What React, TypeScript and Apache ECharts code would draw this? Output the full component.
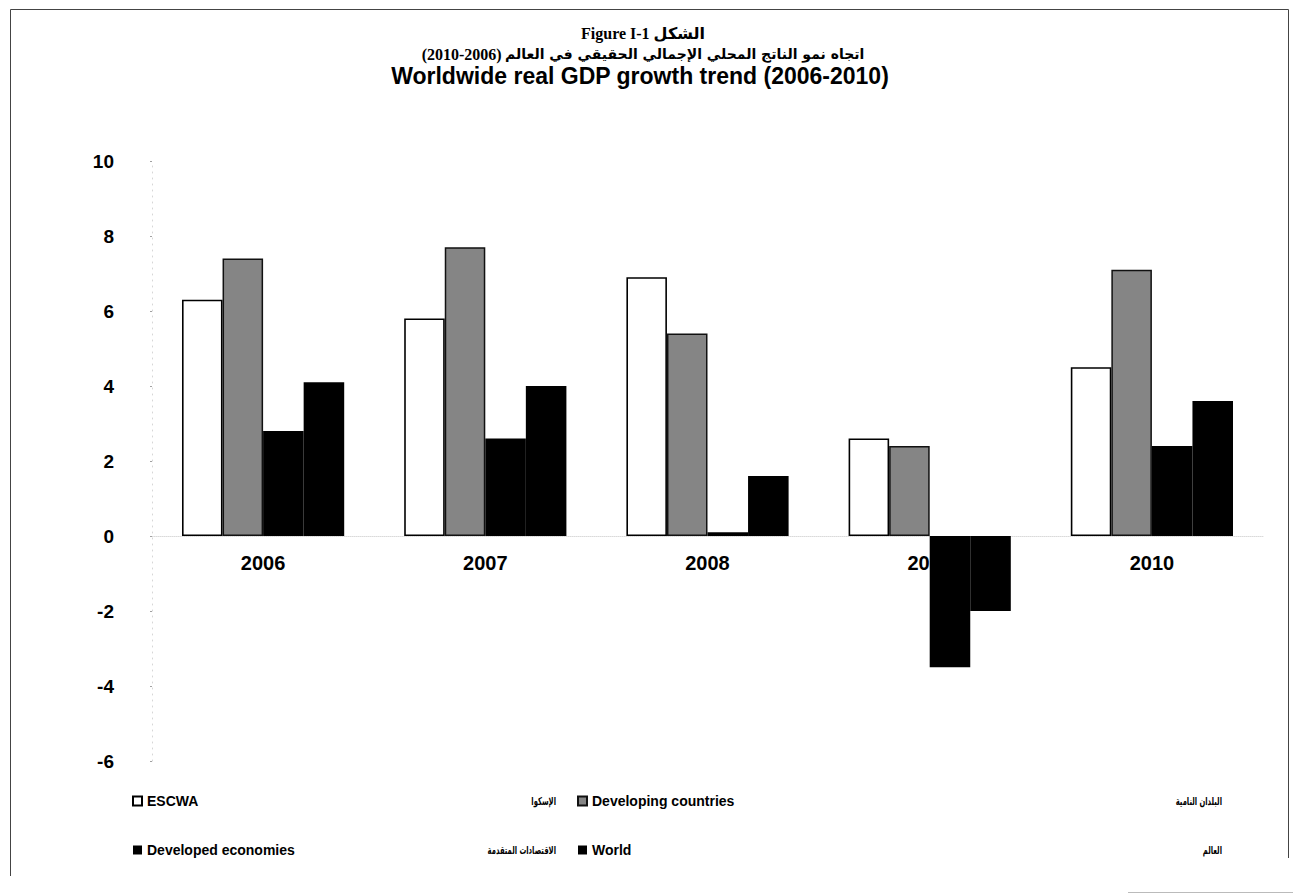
import React, { useEffect, useRef } from "react";
import * as echarts from "echarts";

const categories = ["2006", "2007", "2008", "2009", "2010"];
const escwa = [6.3, 5.8, 6.9, 2.6, 4.5];
const developing = [7.4, 7.7, 5.4, 2.4, 7.1];
const developed = [2.8, 2.6, 0.1, -3.5, 2.4];
const world = [4.1, 4.0, 1.6, -2.0, 3.6];

const seriesNames = ["ESCWA", "Developing countries", "Developed economies", "World"];
const arabicNames = ["الإسكوا", "البلدان النامية", "الاقتصادات المتقدمة", "العالم"];

const titleLine1 = "Figure I-1 الشكل";
const titleArabic = "اتجاه نمو الناتج المحلي الإجمالي الحقيقي في العالم";
const titleArabicYears = "(2010-2006)";
const titleEnglish = "Worldwide real GDP growth trend (2006-2010)";

const SANS = "'Liberation Sans', Arial, sans-serif";
const AR = "'DejaVu Sans', sans-serif";

export default function App() {
  const ref = useRef<HTMLDivElement>(null);
  useEffect(() => {
    const chart = echarts.init(ref.current!, null, { renderer: "svg" });
    const barBase = { type: "bar", barGap: "0%", barCategoryGap: "27%" };
    const arLegend = (text: string, x: number, y: number) => ({
      type: "text",
      x,
      y,
      scaleX: 0.62,
      style: {
        text,
        fontFamily: AR,
        fontWeight: "bold",
        fontSize: 11,
        fill: "#000",
        align: "right",
        verticalAlign: "middle",
      },
    });
    chart.setOption({
      animation: false,
      backgroundColor: "#ffffff",
      grid: { left: 152, right: 30, top: 161, bottom: 133, containLabel: false },
      xAxis: {
        type: "category",
        data: categories,
        position: "bottom",
        offset: -225,
        axisLine: { show: true, onZero: false, lineStyle: { color: "#dadada", type: "dotted", width: 1 } },
        axisTick: { show: false },
        axisLabel: { margin: 17, fontFamily: SANS, fontWeight: "bold", fontSize: 20, color: "#000" },
        splitLine: { show: false },
        z: 0,
      },
      yAxis: {
        type: "value",
        min: -6,
        max: 10,
        interval: 2,
        axisLine: { show: true, lineStyle: { color: "#d6d6d6", type: [1, 5], width: 1 } },
        axisTick: { show: true, length: 2, lineStyle: { color: "#a0a0a0" } },
        axisLabel: { margin: 38, fontFamily: SANS, fontWeight: "bold", fontSize: 19, color: "#000" },
        splitLine: { show: false },
      },
      legend: [
        {
          orient: "vertical",
          left: 132,
          top: 794,
          padding: 0,
          itemWidth: 9,
          itemHeight: 9,
          itemGap: 35,
          icon: "rect",
          data: [seriesNames[0], seriesNames[2]],
          textStyle: { fontFamily: SANS, fontWeight: "bold", fontSize: 14, color: "#000" },
        },
        {
          orient: "vertical",
          left: 577,
          top: 794,
          padding: 0,
          itemWidth: 9,
          itemHeight: 9,
          itemGap: 35,
          icon: "rect",
          data: [seriesNames[1], seriesNames[3]],
          textStyle: { fontFamily: SANS, fontWeight: "bold", fontSize: 14, color: "#000" },
        },
      ],
      graphic: [
        {
          type: "polyline",
          shape: { points: [[10.5, 876], [10.5, 9.5], [1288.5, 9.5], [1288.5, 858]] },
          style: { stroke: "#444", lineWidth: 1, fill: null },
          silent: true,
        },
        {
          type: "line",
          shape: { x1: 1128, y1: 892.5, x2: 1293, y2: 892.5 },
          style: { stroke: "#bbb", lineWidth: 1 },
          silent: true,
        },
        {
          type: "text",
          x: 643,
          y: 33,
          style: {
            text: titleLine1,
            fontFamily: "'Liberation Serif', 'DejaVu Sans', serif",
            fontWeight: "bold",
            fontSize: 16,
            fill: "#000",
            align: "center",
            verticalAlign: "middle",
          },
        },
        {
          type: "text",
          x: 643,
          y: 54,
          style: {
            text: "{n|" + titleArabicYears + "} {a|" + titleArabic + "}",
            align: "center",
            verticalAlign: "middle",
            rich: {
              n: { fontFamily: "'Liberation Serif', serif", fontWeight: "bold", fontSize: 16, fill: "#000" },
              a: { fontFamily: AR, fontWeight: "bold", fontSize: 14, fill: "#000" },
            },
          },
        },
        {
          type: "text",
          x: 640,
          y: 76,
          style: {
            text: titleEnglish,
            fontFamily: SANS,
            fontWeight: "bold",
            fontSize: 23,
            fill: "#000",
            align: "center",
            verticalAlign: "middle",
          },
        },
        arLegend(arabicNames[0], 556, 801),
        arLegend(arabicNames[1], 1222, 801),
        arLegend(arabicNames[2], 556, 850),
        arLegend(arabicNames[3], 1222, 850),
      ],
      series: [
        {
          ...barBase,
          name: seriesNames[0],
          data: escwa,
          itemStyle: { color: "#ffffff", borderColor: "#000", borderWidth: 1.6 },
        },
        {
          ...barBase,
          name: seriesNames[1],
          data: developing,
          itemStyle: { color: "#858585", borderColor: "#111", borderWidth: 1.5 },
        },
        {
          ...barBase,
          name: seriesNames[2],
          data: developed,
          itemStyle: { color: "#000000", borderColor: "#000", borderWidth: 0 },
        },
        {
          ...barBase,
          name: seriesNames[3],
          data: world,
          itemStyle: { color: "#000000", borderColor: "#000", borderWidth: 0 },
        },
      ],
    });
    return () => chart.dispose();
  }, []);
  return (
    <div
      ref={ref}
      style={{ position: "fixed", left: 0, top: 0, width: 1293, height: 894, background: "#fff" }}
    />
  );
}
